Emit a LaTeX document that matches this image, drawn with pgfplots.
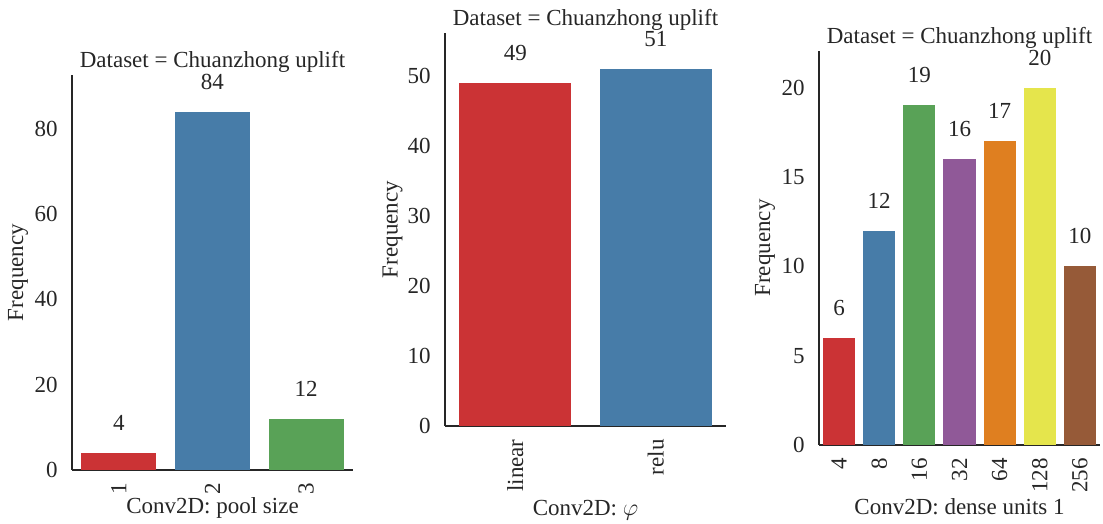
\documentclass[border=0pt]{standalone}
\usepackage{fontspec}
\setmainfont{Liberation Serif}
\usepackage{pgfplots}
\pgfplotsset{compat=1.18}
\definecolor{cR}{HTML}{CB3335}
\definecolor{cB}{HTML}{477CA8}
\definecolor{cG}{HTML}{59A257}
\definecolor{cP}{HTML}{905998}
\definecolor{cO}{HTML}{DF7F20}
\definecolor{cY}{HTML}{E5E54C}
\definecolor{cBr}{HTML}{965A38}
\definecolor{txt}{HTML}{262626}
\pgfplotsset{
  /pgf/number format/assume math mode=true,
  panel/.style={
    scale only axis, width=140.5pt, anchor=south west,
    axis x line*=bottom, axis y line*=left,
    axis line style={-, draw=txt, line width=0.65pt},
    major tick length=0pt, tick style={draw=none},
    ymin=0, xmin=-0.5,
    ybar, bar width=0.8, bar shift=0pt,
    xticklabel style={rotate=90, anchor=east, inner sep=6.5pt, text=txt},
    yticklabel style={anchor=east, inner sep=7pt, text=txt},
    nodes near coords,
    nodes near coords style={anchor=south, inner sep=0pt, yshift=11pt, text=txt},
    title style={anchor=center, text=txt},
    xlabel style={anchor=center, text=txt},
    ylabel style={anchor=center, text=txt},
    every axis plot/.append style={draw=none},
    title={Dataset = Chuanzhong uplift},
    ylabel={Frequency},
  }
}
\begin{document}
\fontsize{11.5}{13.8}\selectfont
\begin{tikzpicture}
\path[use as bounding box] (0,0) rectangle (551.5pt,262pt);
% Panel 1
\begin{axis}[panel, at={(36pt,27pt)}, height=197.5pt,
  xmax=2.5, ymax=92.6,
  xtick={0,1,2}, xticklabels={1,2,3},
  ytick={0,20,40,60,80},
  title style={at={(axis description cs:0.5,1.0025)}},
  xlabel={Conv2D: pool size},
  xlabel style={at={(axis description cs:0.5,-0.0962)}},
  ylabel style={at={(axis description cs:-0.1922,0.5)}},
]
\addplot[fill=cR] coordinates {(0,4)};
\addplot[fill=cB] coordinates {(1,84)};
\addplot[fill=cG] coordinates {(2,12)};
\end{axis}
% Panel 2
\begin{axis}[panel, at={(222.5pt,49pt)}, height=196.5pt,
  xmax=1.5, ymax=56.2,
  xtick={0,1}, xticklabels={linear,relu},
  ytick={0,10,20,30,40,50},
  title style={at={(axis description cs:0.5,1.0025)}},
  xlabel={Conv2D: $\varphi$},
  xlabel style={at={(axis description cs:0.5,-0.2140)}},
  ylabel style={at={(axis description cs:-0.1868,0.5)}},
]
\addplot[fill=cR] coordinates {(0,49)};
\addplot[fill=cB] coordinates {(1,51)};
\end{axis}
% Panel 3
\begin{axis}[panel, at={(409.5pt,39.5pt)}, height=197pt,
  xmax=6.5, ymax=22.05,
  xtick={0,1,2,3,4,5,6}, xticklabels={4,8,16,32,64,128,256},
  ytick={0,5,10,15,20},
  title style={at={(axis description cs:0.5,1.0025)}},
  xlabel={Conv2D: dense units 1},
  xlabel style={at={(axis description cs:0.5,-0.1574)}},
  ylabel style={at={(axis description cs:-0.1922,0.5)}},
]
\addplot[fill=cR] coordinates {(0,6)};
\addplot[fill=cB] coordinates {(1,12)};
\addplot[fill=cG] coordinates {(2,19)};
\addplot[fill=cP] coordinates {(3,16)};
\addplot[fill=cO] coordinates {(4,17)};
\addplot[fill=cY] coordinates {(5,20)};
\addplot[fill=cBr] coordinates {(6,10)};
\end{axis}
\end{tikzpicture}
\end{document}
